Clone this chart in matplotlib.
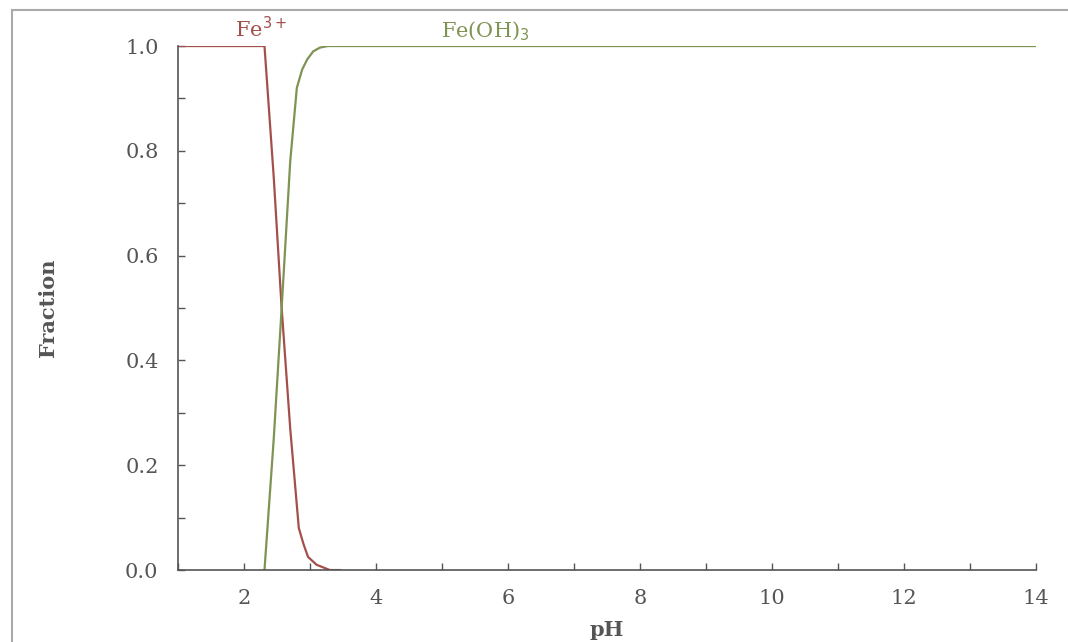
import numpy as np
import matplotlib.pyplot as plt
from matplotlib.patches import Rectangle
from matplotlib.ticker import MultipleLocator

# values
ph_fe3 = [1.0, 2.31, 2.45, 2.57, 2.70, 2.83, 2.90, 2.97, 3.10, 3.30, 3.45]
frac_fe3 = [1.0, 1.0, 0.75, 0.50, 0.27, 0.08, 0.05, 0.025, 0.01, 0.0, 0.0]

ph_feoh3 = [2.31, 2.45, 2.57, 2.70, 2.80, 2.88, 2.96, 3.05, 3.15, 3.27, 14.0]
frac_feoh3 = [0.0, 0.25, 0.50, 0.78, 0.92, 0.955, 0.975, 0.99, 0.997, 1.0, 1.0]

red = '#a3504d'
green = '#7f9352'
grey = '#555555'

plt.rcParams['font.family'] = 'DejaVu Serif'

fig = plt.figure(figsize=(10.68, 6.42), dpi=100)
ax = fig.add_axes([0.1667, 0.1121, 0.8033, 0.8162])

ax.plot(ph_fe3, frac_fe3, color=red, lw=1.6)
ax.plot(ph_feoh3, frac_feoh3, color=green, lw=1.6)

ax.set_xlim(1, 14)
ax.set_ylim(0, 1)
ax.xaxis.set_major_locator(MultipleLocator(2))
ax.xaxis.set_minor_locator(MultipleLocator(1))
ax.yaxis.set_major_locator(MultipleLocator(0.2))
ax.yaxis.set_minor_locator(MultipleLocator(0.1))
ax.yaxis.set_major_formatter(plt.FormatStrFormatter('%.1f'))
ax.tick_params(which='both', direction='in', color=grey, labelcolor=grey,
               labelsize=15, length=5, width=1)
ax.tick_params(axis='x', pad=14)
ax.tick_params(axis='y', pad=14)

for s in ['top', 'right']:
    ax.spines[s].set_visible(False)
for s in ['left', 'bottom']:
    ax.spines[s].set_color(grey)
    ax.spines[s].set_linewidth(1.2)

ax.set_xlabel('pH', fontsize=15, color=grey, fontweight='bold', labelpad=8)
ax.set_ylabel('Fraction', fontsize=15, color=grey, fontweight='bold', labelpad=48)

ax.text(2.25, 1.01, 'Fe$^{3+}$', color=red, fontsize=15, ha='center', va='bottom')
ax.text(5.65, 1.005, 'Fe(OH)$_3$', color=green, fontsize=15, ha='center', va='bottom')

# scan border
fig.patches.append(Rectangle((0.011, -0.01), 1.0, 0.995, transform=fig.transFigure,
                             fill=False, edgecolor='#aaaaaa', lw=1.5))

fig.savefig('out.png', dpi=100)
